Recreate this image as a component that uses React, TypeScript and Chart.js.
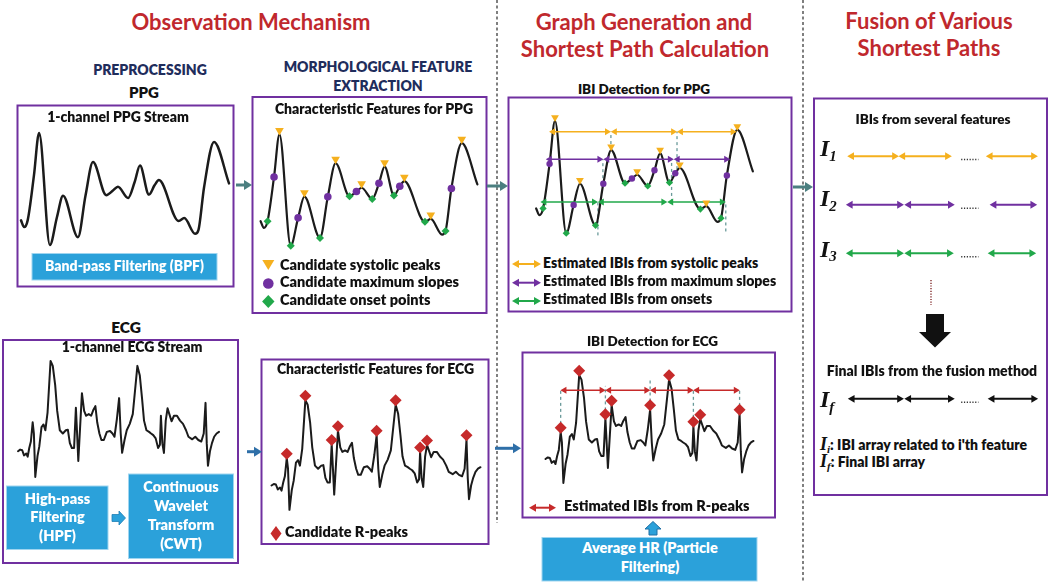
import React, { useEffect, useRef } from "react";
import { Chart, registerables } from "chart.js";
Chart.register(...registerables);

// ---------------- DATA ----------------
// PPG waveform key points (normalised 0-100 time, 0-100 amplitude)
const PPG_X = [0, 1.5, 3.2, 6.2, 8.7, 13.9, 17.3, 20.2, 27.4, 31, 34.6, 41, 44.2, 46.6, 51.5, 54.6, 57.2, 61.5, 64.2, 66.3, 75.8, 78.5, 83.7, 85.3, 88, 92.8, 100];
const PPG_Y = [22, 16, 22, 61.7, 100, 0, 25, 44, 7, 44, 74, 44.5, 48.6, 52, 42, 56, 71, 45, 53.3, 58, 21.4, 24, 10, 13.3, 51.4, 92, 55];
const PPG_SYSTOLIC = [8.7, 20.2, 34.6, 46.6, 57.2, 66.3, 78.5, 92.8];
const PPG_SLOPES = [6.2, 17.3, 31, 44.2, 54.6, 64.2, 88];
const PPG_ONSETS = [3.2, 13.9, 27.4, 41, 51.5, 61.5, 75.8, 85.3];

// IBI arrows for PPG (boundaries along time, level in amplitude units)
const IBI_SYSTOLIC_BOUNDS = [6, 34.5, 65, 92.5];
const IBI_SYSTOLIC_LEVEL = 90.3;
const IBI_SLOPE_BOUNDS = [4.5, 31, 63.5, 89.5];
const IBI_SLOPE_LEVEL = 65.8;
const IBI_ONSET_BOUNDS = [2, 28.5, 60.5, 87.5];
const IBI_ONSET_LEVEL = 27.8;
// dashed guide lines: [time, from, to]
const PPG_GUIDES = [
  [34.5, 74, 90.3],
  [65, 57, 90.3],
  [30.8, 43.6, 65.8],
  [62.5, 27.8, 65.8],
  [28.5, -2, 27.8],
  [87.5, 1.5, 27.8],
];

// ECG waveform key points
const ECG_X = [0, 1.1, 2.1, 3.0, 4.1, 4.8, 5.6, 6.4, 7.3, 7.9, 8.6, 9.7, 10.6, 11.7, 12.7, 13.6, 14.7, 16.2, 17.3, 18.5, 19.5, 20.8, 22.3, 23.8, 24.8, 25.8, 26.8, 27.9, 28.8, 29.4, 30.0, 30.9, 31.8, 32.9, 33.9, 35.2, 36.4, 37.4, 38.5, 39.4, 40.5, 41.5, 42.7, 44.2, 45.8, 47.0, 48.0, 49.2, 50.3, 51.1, 51.8, 53.0, 54.1, 55.6, 57.1, 59.4, 60.6, 61.7, 62.7, 63.9, 65.2, 66.2, 67.3, 68.5, 69.7, 70.6, 71.1, 71.8, 72.6, 73.5, 74.4, 75.3, 76.4, 77.6, 79.1, 80.6, 82.1, 83.6, 84.8, 86.7, 88.2, 89.7, 91.2, 92.4, 93.3, 93.9, 94.5, 95.5, 96.5, 97.6, 98.8, 100];
const ECG_Y = [22.2, 23.6, 23.1, 18.6, 20.3, 17.5, 25, 30.6, 47.2, 37.5, 0, 18, 26.4, 43, 45.3, 40.3, 55.6, 100, 95.8, 79.2, 57, 40.3, 37.5, 40.3, 40.8, 29.2, 25, 25, 59.7, 37.5, 13.9, 43, 72.2, 57, 52.8, 54.2, 52.8, 57.5, 61.1, 47.2, 37.5, 31.9, 31.9, 38.9, 39.7, 37.5, 34.7, 50, 68, 37.5, 20.8, 31.9, 40.3, 45.8, 54.2, 95.8, 87.5, 68, 48.6, 40.3, 38.9, 37.5, 36.1, 33.3, 25, 27.8, 52.8, 29.2, 20.8, 48.6, 59.2, 54.2, 48, 52.8, 52.8, 48.6, 45.8, 40.3, 34.7, 32.5, 34.7, 31.9, 30.6, 37.5, 63.9, 29.2, 9.7, 22.2, 29.2, 34.7, 37.5, 38.9];
const ECG_RPEAKS = [7.3, 16.2, 28.8, 31.8, 50.3, 59.4, 71.1, 74.4, 93.3];
const ECG_IBI_BOUNDS = [7.3, 28.8, 50.3, 71.1, 93.3];
const ECG_IBI_LEVEL = 85.9;
const ECG_GUIDE_TOPS = [86, 90, 95, 88, 87];

// Fusion panel
const FUSION_LABELS = ["1", "2", "3", "f"];
const FUSION_ROW_POS = [0, 1, 2, 5];
const FUSION_COLORS = ["#f5b01e", "#7030a0", "#21a84a", "#111111"];
const FUSION_SEGMENTS = [
  [[0.7, 27.4], [27.4, 55], [73, 99.9]],
  [[0, 30], [30.5, 56.5], [75, 99.5]],
  [[0, 30], [30.5, 56], [74, 99]],
  [[1, 30], [30.5, 56.5], [74, 100]],
];
const FUSION_DOTS = [60, 69];

// ---------------- STYLE ----------------
const INK = "#1b1b1b";
const YELLOW = "#f5b01e";
const PURPLE = "#7030a0";
const GREEN = "#21a84a";
const RED = "#c62a2a";
const GUIDE = "#6a9a9a";
const TEAL = "#4b7f80";
const NAVY = "#1f2d5c";
const TITLE_RED = "#c0282d";
const BLUE = "#2ba1da";
const SANS = "Lato, 'Open Sans', sans-serif";
const SERIF = "'Liberation Serif', 'DejaVu Serif', serif";

const pts = (xs: number[], ys: number[]) => xs.map((x, i) => ({ x, y: ys[i] }));
const at = (xs: number[], ys: number[], x: number) => ys[xs.indexOf(x)];

function waveDS(xs: number[], ys: number[], smooth: boolean, width = 2) {
  return {
    data: pts(xs, ys), borderColor: INK, borderWidth: width, pointRadius: 0, fill: false,
    tension: 0, cubicInterpolationMode: smooth ? "monotone" : "default", clip: false,
    borderJoinStyle: "round", borderCapStyle: "round",
  };
}
function markerDS(xs: number[], srcX: number[], srcY: number[], dy: number, style: string, color: string, r: number, rot = 0) {
  return {
    data: xs.map((x) => ({ x, y: at(srcX, srcY, x) + dy })), showLine: false,
    pointStyle: style, pointRadius: r, pointRotation: rot, pointBackgroundColor: color,
    pointBorderColor: color, pointBorderWidth: 0, borderColor: color, clip: false,
  };
}
function arrowDS(x0: number, x1: number, y: number, color: string, inset: number, r = 4, w = 1.6) {
  return {
    data: [{ x: x0 + inset, y }, { x: x1 - inset, y }], borderColor: color, borderWidth: w,
    pointStyle: "triangle", pointRadius: r, pointRotation: [270, 90], pointBackgroundColor: color,
    pointBorderColor: color, pointBorderWidth: 0, clip: false,
  };
}
function dashDS(x: number, y0: number, y1: number, color: string, dash = [3, 3], w = 1.3) {
  return { data: [{ x, y: y0 }, { x, y: y1 }], borderColor: color, borderWidth: w, borderDash: dash, pointRadius: 0, clip: false };
}
function arrowsFromBounds(bounds: number[], level: number, color: string, inset: number, r = 4, w = 1.6) {
  const out: any[] = [];
  for (let i = 0; i < bounds.length - 1; i++) out.push(arrowDS(bounds[i], bounds[i + 1], level, color, inset, r, w));
  return out;
}

type MiniProps = { left: number; top: number; width: number; height: number; margin: number; xMin?: number; xMax?: number; yMin?: number; yMax?: number; reverse?: boolean; datasets: any[] };

function MiniChart({ left, top, width, height, margin, xMin = 0, xMax = 100, yMin = 0, yMax = 100, reverse = false, datasets }: MiniProps) {
  const ref = useRef<HTMLCanvasElement>(null);
  useEffect(() => {
    const sx = (xMax - xMin) / width;
    const sy = (yMax - yMin) / height;
    const chart = new Chart(ref.current as HTMLCanvasElement, {
      type: "line",
      data: { datasets },
      options: {
        responsive: false, maintainAspectRatio: false, animation: false, events: [],
        layout: { padding: 0 },
        plugins: { legend: { display: false }, tooltip: { enabled: false }, title: { display: false } },
        scales: {
          x: { type: "linear", display: false, min: xMin - margin * sx, max: xMax + margin * sx },
          y: { type: "linear", display: false, min: yMin - margin * sy, max: yMax + margin * sy, reverse },
        },
      } as any,
    });
    return () => chart.destroy();
  }, []);
  const W = width + 2 * margin, H = height + 2 * margin;
  return <canvas ref={ref} width={W} height={H} style={{ position: "absolute", left: left - margin, top: top - margin, width: W, height: H }} />;
}

function T({ x, y, size = 13, color = "#111", align = "center", children, w = 400, weight = 800 }: any) {
  const style: React.CSSProperties = {
    position: "absolute", top: y - 0.987 * size, fontFamily: SANS, fontWeight: weight, fontSize: size,
    lineHeight: `${size * 1.2}px`, color, whiteSpace: "nowrap",
  };
  if (align === "center") { style.left = x - w / 2; style.width = w; style.textAlign = "center"; }
  else style.left = x;
  return <div style={style}>{children}</div>;
}

function ILabel({ x, y, sub, size = 24 }: any) {
  return (
    <div style={{ position: "absolute", left: x, top: y - 0.9 * size, fontFamily: SERIF, fontStyle: "italic", fontWeight: 700, fontSize: size, lineHeight: `${size}px`, color: "#111", whiteSpace: "nowrap" }}>
      I<span style={{ fontSize: size * 0.62, position: "relative", top: size * 0.2 }}>{sub}</span>
    </div>
  );
}

function conn(x1: number, x2: number, y: number, color: string, key: string) {
  return (
    <g key={key}>
      <line x1={x1} y1={y} x2={x2 - 6} y2={y} stroke={color} strokeWidth={3} />
      <polygon points={`${x2 - 8},${y - 5} ${x2},${y} ${x2 - 8},${y + 5}`} fill={color} />
    </g>
  );
}
function legArrow(x1: number, x2: number, y: number, color: string, key: string) {
  return (
    <g key={key}>
      <line x1={x1 + 4} y1={y} x2={x2 - 4} y2={y} stroke={color} strokeWidth={2} />
      <polygon points={`${x1 + 7},${y - 4} ${x1},${y} ${x1 + 7},${y + 4}`} fill={color} />
      <polygon points={`${x2 - 7},${y - 4} ${x2},${y} ${x2 - 7},${y + 4}`} fill={color} />
    </g>
  );
}

export default function App() {
  const ppgFeature = [
    markerDS(PPG_SYSTOLIC, PPG_X, PPG_Y, 3.5, "triangle", YELLOW, 5, 180),
    markerDS(PPG_SLOPES, PPG_X, PPG_Y, 0, "circle", PURPLE, 3.8),
    markerDS(PPG_ONSETS, PPG_X, PPG_Y, 0, "rectRot", GREEN, 4),
    waveDS(PPG_X, PPG_Y, true, 2.2),
  ];
  const ppgIbi = [
    markerDS(PPG_SYSTOLIC, PPG_X, PPG_Y, 3, "triangle", YELLOW, 4.5, 180),
    markerDS(PPG_SLOPES, PPG_X, PPG_Y, 0, "circle", PURPLE, 3.2),
    markerDS(PPG_ONSETS, PPG_X, PPG_Y, 0, "rectRot", GREEN, 3.6),
    ...arrowsFromBounds(IBI_SYSTOLIC_BOUNDS, IBI_SYSTOLIC_LEVEL, YELLOW, 1.8),
    ...arrowsFromBounds(IBI_SLOPE_BOUNDS, IBI_SLOPE_LEVEL, PURPLE, 1.8),
    ...arrowsFromBounds(IBI_ONSET_BOUNDS, IBI_ONSET_LEVEL, GREEN, 1.8),
    waveDS(PPG_X, PPG_Y, true, 2.2),
    ...PPG_GUIDES.map((g) => dashDS(g[0], g[1], g[2], GUIDE)),
  ];
  const ecgFeature = [
    markerDS(ECG_RPEAKS, ECG_X, ECG_Y, 4, "rectRot", RED, 6),
    waveDS(ECG_X, ECG_Y, false, 2),
  ];
  const ecgIbi = [
    markerDS(ECG_RPEAKS, ECG_X, ECG_Y, 4, "rectRot", RED, 6),
    ...arrowsFromBounds(ECG_IBI_BOUNDS, ECG_IBI_LEVEL, RED, 1.8, 4, 1.5),
    waveDS(ECG_X, ECG_Y, false, 2),
    ...ECG_IBI_BOUNDS.map((x, i) => dashDS(x, at(ECG_X, ECG_Y, x) + 2, ECG_GUIDE_TOPS[i], GUIDE)),
  ];
  const fusion: any[] = [];
  FUSION_SEGMENTS.forEach((segs, i) => {
    segs.forEach((s) => fusion.push(arrowDS(s[0], s[1], FUSION_ROW_POS[i], FUSION_COLORS[i], 2.2, 4.5, 2)));
    fusion.push({ data: [{ x: FUSION_DOTS[0], y: FUSION_ROW_POS[i] + 0.07 }, { x: FUSION_DOTS[1], y: FUSION_ROW_POS[i] + 0.07 }], borderColor: "#333", borderWidth: 1.5, borderDash: [1.2, 1.6], pointRadius: 0, clip: false });
  });

  const boxes = [
    [17.5, 105.5, 216, 181],
    [252.5, 97, 234, 216],
    [508.5, 97.5, 283, 214],
    [814, 98.5, 233, 396.5],
    [3, 340, 235, 223],
    [261.5, 359.5, 227, 184.5],
    [522.5, 352.5, 252.5, 165],
  ];

  return (
    <div style={{ position: "absolute", left: 0, top: 0, width: 1050, height: 583, background: "#fff", overflow: "hidden" }}>
      <svg width={1050} height={583} style={{ position: "absolute", left: 0, top: 0 }}>
        <line x1={497} y1={0} x2={497} y2={523} stroke="#555" strokeWidth={1.5} strokeDasharray="3 2.5" />
        <line x1={803} y1={0} x2={803} y2={583} stroke="#555" strokeWidth={1.5} strokeDasharray="3 2.5" />
        {boxes.map((b, i) => (
          <rect key={"b" + i} x={b[0]} y={b[1]} width={b[2]} height={b[3]} fill="#fff" stroke={PURPLE} strokeWidth={2} />
        ))}
        <rect x={32} y={253.5} width={185} height={26.5} fill={BLUE} stroke="#9fd5f0" strokeWidth={1} />
        <rect x={6.5} y={486} width={101.5} height={63.5} fill={BLUE} stroke="#9fd5f0" strokeWidth={1} />
        <rect x={128.5} y={474} width={105} height={84.5} fill={BLUE} stroke="#9fd5f0" strokeWidth={1} />
        <rect x={542} y={537.5} width={215} height={43.5} fill={BLUE} stroke="#9fd5f0" strokeWidth={1} />
        {conn(236, 252, 185, TEAL, "c1")}
        {conn(487, 508, 186, TEAL, "c2")}
        {conn(793, 813, 187, TEAL, "c3")}
        {conn(247, 262, 451.7, "#2e6fa8", "c4")}
        {conn(495, 521, 448.3, "#2e6fa8", "c5")}
        <polygon points="112,514.5 119,514.5 119,511 125.5,518 119,525 119,521.5 112,521.5" fill={BLUE} stroke="#1f7fb5" strokeWidth={0.8} />
        <polygon points="649,535 649,529 645,529 653,521.5 661,529 657,529 657,535" fill={BLUE} stroke="#1f6fa5" strokeWidth={1} />
        <polygon points="926,314 944,314 944,332 951,332 935,347.5 919,332 926,332" fill="#111" />
        <line x1={931} y1={280} x2={931} y2={305} stroke="#8b3a3a" strokeWidth={1.5} strokeDasharray="1.2 1.5" />
        <polygon points="262.3,260 274.3,260 268.3,270" fill={YELLOW} />
        <circle cx={268.3} cy={283.5} r={5.3} fill={PURPLE} />
        <polygon points="268.3,295 274.5,301.5 268.3,308 262.1,301.5" fill={GREEN} />
        {legArrow(512, 541, 264, YELLOW, "l1")}
        {legArrow(512, 541, 282.7, PURPLE, "l2")}
        {legArrow(512, 541, 301, GREEN, "l3")}
        <polygon points="276,526 281.5,533.5 276,541 270.5,533.5" fill={RED} />
        {legArrow(529, 556, 507.7, RED, "l4")}
      </svg>

      <MiniChart left={21} top={133} width={208} height={112} margin={8} datasets={[waveDS(PPG_X, PPG_Y, true, 2.5)]} />
      <MiniChart left={256} top={130} width={226} height={120} margin={10} datasets={ppgFeature} />
      <MiniChart left={531.7} top={116.7} width={225} height={120} margin={10} datasets={ppgIbi} />
      <MiniChart left={18.3} top={360.7} width={201} height={116} margin={8} datasets={[waveDS(ECG_X, ECG_Y, false, 2)]} />
      <MiniChart left={266} top={395} width={220} height={120} margin={10} datasets={ecgFeature} />
      <MiniChart left={540} top={370} width={219.3} height={118.3} margin={10} datasets={ecgIbi} />
      <MiniChart left={842} top={151.7} width={200} height={251.5} margin={8} xMin={0} xMax={100} yMin={0} yMax={5} reverse datasets={fusion} />

      <T x={251} y={30.7} size={22} color={TITLE_RED} weight={700}>Observation Mechanism</T>
      <T x={644} y={31} size={22} color={TITLE_RED} weight={700}>Graph Generation and</T>
      <T x={645} y={58} size={22} color={TITLE_RED} weight={700}>Shortest Path Calculation</T>
      <T x={929} y={30} size={22} color={TITLE_RED} weight={700}>Fusion of Various</T>
      <T x={929} y={57} size={22} color={TITLE_RED} weight={700}>Shortest Paths</T>

      <T x={150} y={76} size={14} color={NAVY}>PREPROCESSING</T>
      <T x={144} y={98} size={15}>PPG</T>
      <T x={378} y={72.7} size={14} color={NAVY}>MORPHOLOGICAL FEATURE</T>
      <T x={378} y={91.7} size={14} color={NAVY}>EXTRACTION</T>

      <T x={118} y={123} size={14}>1-channel PPG Stream</T>
      <T x={124.5} y={271.7} size={14} color="#fff">Band-pass Filtering (BPF)</T>

      <T x={374} y={115} size={14}>Characteristic  Features for PPG</T>
      <T x={280} y={270} size={14.5} align="left">Candidate systolic peaks</T>
      <T x={280} y={287.3} size={14.5} align="left">Candidate maximum slopes</T>
      <T x={280} y={305} size={14.5} align="left">Candidate onset points</T>

      <T x={644} y={94.5} size={13.5}>IBI Detection for PPG</T>
      <T x={543} y={268.5} size={14} align="left">Estimated IBIs from systolic peaks</T>
      <T x={543} y={287} size={14} align="left">Estimated IBIs from maximum slopes</T>
      <T x={543} y={305} size={14} align="left">Estimated IBIs from onsets</T>

      <T x={933} y={124.3} size={13.5}>IBIs from several features</T>
      {FUSION_LABELS.map((s, i) => (
        <ILabel key={"il" + i} x={820} y={157.5 + 50.3 * FUSION_ROW_POS[i]} sub={s} />
      ))}
      <T x={932} y={376.7} size={14}>Final IBIs from the fusion method</T>
      <div style={{ position: "absolute", left: 820, top: 435, whiteSpace: "nowrap", fontFamily: SANS, fontWeight: 800, fontSize: 14, lineHeight: "18px", color: "#111" }}>
        <span style={{ fontFamily: SERIF, fontStyle: "italic", fontWeight: 700, fontSize: 18 }}>I<span style={{ fontSize: 11, position: "relative", top: 3 }}>i</span></span>: IBI array related to i'th feature
      </div>
      <div style={{ position: "absolute", left: 820, top: 452, whiteSpace: "nowrap", fontFamily: SANS, fontWeight: 800, fontSize: 14, lineHeight: "18px", color: "#111" }}>
        <span style={{ fontFamily: SERIF, fontStyle: "italic", fontWeight: 700, fontSize: 18 }}>I<span style={{ fontSize: 11, position: "relative", top: 3 }}>f</span></span>: Final IBI array
      </div>

      <T x={126} y={333} size={15.5}>ECG</T>
      <T x={132} y={353} size={14}>1-channel ECG Stream</T>
      <T x={57.5} y={504} size={14.5} color="#fff">High-pass</T>
      <T x={57.5} y={522.7} size={14.5} color="#fff">Filtering</T>
      <T x={57.5} y={541.7} size={14.5} color="#fff">(HPF)</T>
      <T x={181} y={492.7} size={14.5} color="#fff">Continuous</T>
      <T x={181} y={511.7} size={14.5} color="#fff">Wavelet</T>
      <T x={181} y={530.7} size={14.5} color="#fff">Transform</T>
      <T x={181} y={549.3} size={14.5} color="#fff">(CWT)</T>

      <T x={375.5} y={375} size={14}>Characteristic  Features for ECG</T>
      <T x={285} y={537.7} size={14.5} align="left">Candidate R-peaks</T>

      <T x={652.5} y={346} size={13.5}>IBI Detection for ECG</T>
      <T x={564} y={511.7} size={14.5} align="left">Estimated IBIs from R-peaks</T>
      <T x={650} y={553.3} size={14.5} color="#fff">Average HR (Particle</T>
      <T x={650} y={572.7} size={14.5} color="#fff">Filtering)</T>
    </div>
  );
}
